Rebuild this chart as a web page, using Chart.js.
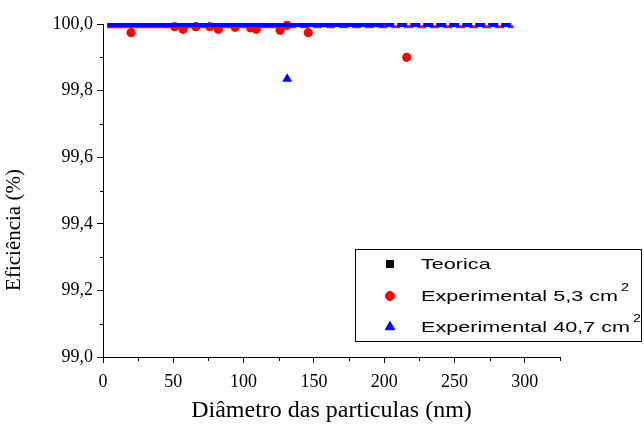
<!DOCTYPE html>
<html>
<head>
<meta charset="utf-8">
<script src="https://cdn.jsdelivr.net/npm/chart.js@4.4.0/dist/chart.umd.min.js"></script>
<style>
  html, body { margin: 0; padding: 0; background: #fff; }
  #wrap { width: 644px; height: 427px; }
</style>
</head>
<body>
<div id="wrap"><canvas id="chartEff"></canvas></div>
<script>
// eixos
const xTicks = [0, 50, 100, 150, 200, 250, 300];
const xMinorTicks = [25, 75, 125, 175, 225, 275, 325];
const yTicks = [99.0, 99.2, 99.4, 99.6, 99.8, 100.0];
const yMinorTicks = [99.1, 99.3, 99.5, 99.7, 99.9];

// Teorica (fica por baixo das outras séries)
const teoricaX = [5, 20, 40, 60, 80, 100, 120, 140, 160, 180];
const teoricaY = [99.997, 99.997, 99.997, 99.997, 99.997, 99.997, 99.997, 99.997, 99.997, 99.997];

// Experimental 5,3 cm2
const exp53X = [20, 51, 57, 66, 76, 82, 94, 105, 109, 126, 131, 146, 216];
const exp53Y = [99.974, 99.992, 99.984, 99.992, 99.992, 99.984, 99.990, 99.988, 99.984, 99.981, 99.996, 99.974, 99.900];
const exp53LineX = [3, 131, 292];
const exp53LineY = [99.992, 99.992, 99.992];

// Experimental 40,7 cm2
const exp407X = [131];
const exp407Y = [99.835];
const exp407LineX = [3, 200, 292];
const exp407LineY = [99.997, 99.997, 99.997];

function pts(xs, ys) {
    return xs.map(function (x, i) { return { x: x, y: ys[i] }; });
}

const legendItems = [
    { text: "Teorica", sup: "", style: "rect", color: "#000000", radius: 5 },
    { text: "Experimental 5,3 cm", sup: "2", style: "circle", color: "#ff0000", radius: 4.5 },
    { text: "Experimental 40,7 cm", sup: "2", style: "triangle", color: "#0000ff", radius: 5.5 },
];

const extras = {
    id: "extras",
    afterDraw: function (chart) {
        const ctx = chart.ctx;
        const xs = chart.scales.x;
        const ys = chart.scales.y;
        ctx.save();
        ctx.strokeStyle = "#000";
        ctx.lineWidth = 1;
        // ticks menores
        yMinorTicks.forEach(function (v) {
            const y = Math.round(ys.getPixelForValue(v)) + 0.5;
            ctx.beginPath();
            ctx.moveTo(xs.left - 3, y);
            ctx.lineTo(xs.left, y);
            ctx.stroke();
        });
        xMinorTicks.forEach(function (v) {
            const x = Math.round(xs.getPixelForValue(v)) + 0.5;
            ctx.beginPath();
            ctx.moveTo(x, ys.bottom);
            ctx.lineTo(x, ys.bottom + 4);
            ctx.stroke();
        });

        // título do eixo y
        ctx.save();
        ctx.translate(14, 230);
        ctx.rotate(-Math.PI / 2);
        ctx.font = '21px "Liberation Serif"';
        ctx.fillStyle = "#000";
        ctx.textAlign = "center";
        ctx.textBaseline = "middle";
        ctx.fillText("Eficiência (%)", 0, 0);
        ctx.restore();

        // legenda
        ctx.strokeRect(355.5, 249.5, 286, 92);
        const rowY = [264, 296, 327];
        ctx.font = '15px "Liberation Sans"';
        const sx = 197 / ctx.measureText("Experimental 5,3 cm").width;
        legendItems.forEach(function (it, i) {
            ctx.fillStyle = it.color;
            ctx.strokeStyle = it.color;
            Chart.helpers.drawPoint(ctx, { pointStyle: it.style, radius: it.radius, rotation: 0, borderWidth: 1 }, 390, rowY[i]);
            ctx.save();
            ctx.fillStyle = "#000";
            ctx.textBaseline = "middle";
            ctx.translate(421, rowY[i]);
            ctx.scale(sx, 1);
            ctx.font = '15px "Liberation Sans"';
            ctx.fillText(it.text, 0, 1);
            const w = ctx.measureText(it.text).width;
            if (it.sup) {
                ctx.font = '10px "Liberation Sans"';
                ctx.fillText(it.sup, w + 2, -8);
            }
            ctx.restore();
        });
        ctx.restore();
    }
};

// order menor = desenhado por cima
const data = {
    datasets: [
        {
            label: "Experimental 40,7 cm2",
            data: pts(exp407X, exp407Y),
            showLine: false,
            pointStyle: "triangle",
            pointRadius: 5.8,
            backgroundColor: "#0000ff",
            borderColor: "#0000ff",
            borderWidth: 0,
            order: 0,
            clip: false,
        },
        {
            label: "linha 40,7",
            data: pts(exp407LineX, exp407LineY),
            showLine: true,
            pointRadius: 0,
            borderColor: "#0000ff",
            borderWidth: 4,
            segment: {
                borderDash: function (c) { return c.p0.parsed.x >= 200 ? [10, 3] : undefined; },
            },
            order: 1,
            clip: false,
        },
        {
            label: "Experimental 5,3 cm2",
            data: pts(exp53X, exp53Y),
            showLine: false,
            pointStyle: "circle",
            pointRadius: 4.6,
            backgroundColor: "#ff0000",
            borderColor: "#ff0000",
            borderWidth: 0,
            order: 2,
            clip: false,
        },
        {
            label: "linha 5,3",
            data: pts(exp53LineX, exp53LineY),
            showLine: true,
            pointRadius: 0,
            borderColor: "#ff0000",
            borderWidth: 3,
            segment: {
                borderDash: function (c) { return c.p0.parsed.x >= 131 ? [9, 4] : undefined; },
            },
            order: 3,
            clip: false,
        },
        {
            label: "Teorica",
            data: pts(teoricaX, teoricaY),
            showLine: false,
            pointStyle: "rect",
            pointRadius: 1,
            backgroundColor: "#000000",
            borderColor: "#000000",
            borderWidth: 0,
            order: 4,
            clip: false,
        },
    ],
};

const config = {
    type: "scatter",
    data: data,
    options: {
        responsive: true,
        maintainAspectRatio: false,
        animation: false,
        layout: { padding: { top: 24, right: 84, bottom: 0, left: 0 } },
        plugins: {
            legend: false,
            tooltip: false,
        },
        scales: {
            x: {
                type: "linear",
                min: 0,
                max: 325,
                afterBuildTicks: function (s) { s.ticks = xTicks.map(function (v) { return { value: v }; }); },
                afterFit: function (s) { s.height = 70; },
                ticks: {
                    color: "#000",
                    padding: 8,
                    maxRotation: 0,
                    font: { family: "Liberation Serif", size: 18 },
                },
                grid: { drawOnChartArea: false, tickLength: 6, tickColor: "#000" },
                border: { color: "#000", width: 1 },
                title: {
                    display: true,
                    text: "Diâmetro das particulas (nm)",
                    color: "#000",
                    font: { family: "Liberation Serif", size: 24 },
                    padding: { top: 0, bottom: 2 },
                },
            },
            y: {
                type: "linear",
                min: 99,
                max: 100,
                afterBuildTicks: function (s) { s.ticks = yTicks.map(function (v) { return { value: v }; }); },
                afterFit: function (s) { s.width = 103; },
                ticks: {
                    color: "#000",
                    padding: 4,
                    font: { family: "Liberation Serif", size: 18 },
                    callback: function (v) { return v.toFixed(1).replace(".", ","); },
                },
                grid: { drawOnChartArea: false, tickLength: 6, tickColor: "#000" },
                border: { color: "#000", width: 1 },
            },
        },
    },
    plugins: [extras],
};

var chartEff = new Chart(document.getElementById("chartEff"), config);
</script>
</body>
</html>
